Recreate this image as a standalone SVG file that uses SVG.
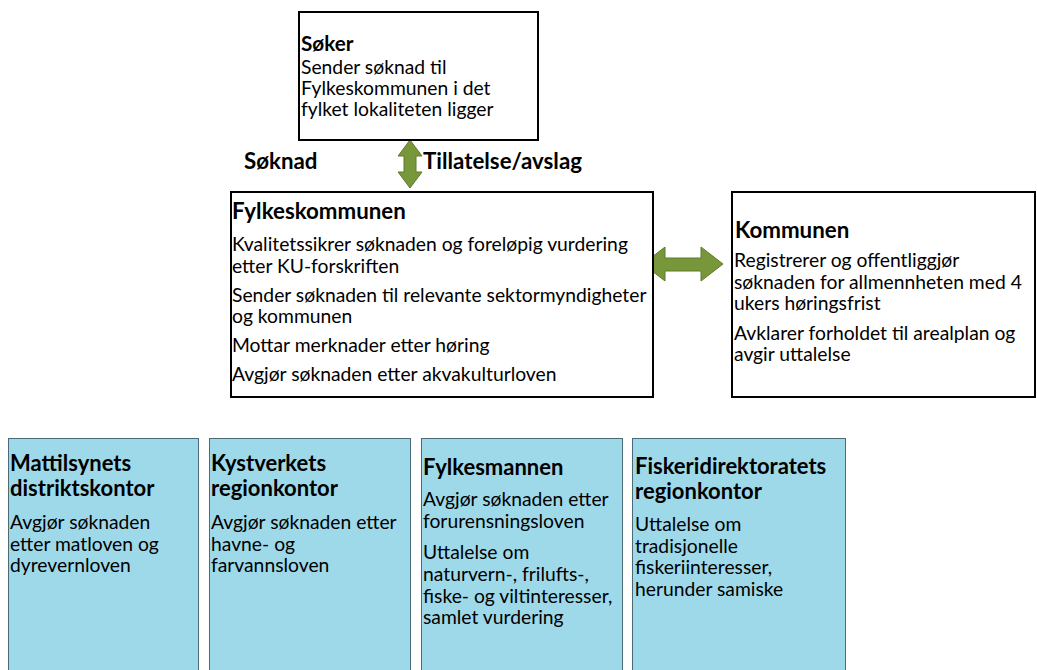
<svg xmlns="http://www.w3.org/2000/svg" width="1037" height="670" viewBox="0 0 1037 670">
<style>
text{font-family:Lato,"Open Sans","Liberation Sans",sans-serif;fill:#000}
.t{font-size:19.3px}
.b{font-size:22.3px;font-weight:bold}
.h{font-size:22px;font-weight:bold}
.s{font-size:20.7px;font-weight:bold}
.box{fill:#fff;stroke:#000;stroke-width:2}
.blue{fill:#9ed9ea;stroke:#4a6a78;stroke-width:1}
.arrow{fill:#78963a;stroke:#5f7b2c;stroke-width:1}
</style>
<rect width="1037" height="670" fill="#fff"/>
<g id="connectors">
<path class="arrow" d="M410,140 L422,156 L416,156 L416,172 L422,172 L410,188 L398,172 L404,172 L404,156 L398,156 Z"/>
<path class="arrow" d="M643,264 L665,247 L665,258 L701,258 L701,247 L723,264 L701,281 L701,271 L665,271 L665,281 Z"/>
<text class="b" x="244" y="169">Søknad</text>
<text class="b" x="423" y="169">Tillatelse/avslag</text>
</g>
<g id="soker">
<rect class="box" x="299" y="12" width="239" height="128"/>
<text class="s" x="301" y="51">Søker</text>
<text class="t" x="301" y="74">Sender søknad til</text>
<text class="t" x="301" y="95">Fylkeskommunen i det</text>
<text class="t" x="301" y="116">fylket lokaliteten ligger</text>
</g>
<g id="fylkeskommunen">
<rect class="box" x="231" y="192" width="422" height="205"/>
<text class="b" x="232" y="219">Fylkeskommunen</text>
<text class="t" x="232" y="251">Kvalitetssikrer søknaden og foreløpig vurdering</text>
<text class="t" x="232" y="273">etter KU-forskriften</text>
<text class="t" x="232" y="302">Sender søknaden til relevante sektormyndigheter</text>
<text class="t" x="232" y="323">og kommunen</text>
<text class="t" x="232" y="352">Mottar merknader etter høring</text>
<text class="t" x="232" y="381">Avgjør søknaden etter akvakulturloven</text>
</g>
<g id="kommunen">
<rect class="box" x="732" y="192" width="303" height="205"/>
<text class="b" x="735" y="238">Kommunen</text>
<text class="t" x="734" y="267">Registrerer og offentliggjør</text>
<text class="t" x="734" y="289">søknaden for allmennheten med 4</text>
<text class="t" x="734" y="310">ukers høringsfrist</text>
<text class="t" x="734" y="340">Avklarer forholdet til arealplan og</text>
<text class="t" x="734" y="361">avgir uttalelse</text>
</g>
<g id="mattilsynet">
<rect class="blue" x="8.5" y="438.5" width="190" height="235"/>
<text class="h" x="10" y="471">Mattilsynets</text>
<text class="h" x="10" y="496">distriktskontor</text>
<text class="t" x="10" y="529">Avgjør søknaden</text>
<text class="t" x="10" y="551">etter matloven og</text>
<text class="t" x="10" y="572">dyrevernloven</text>
</g>
<g id="kystverket">
<rect class="blue" x="209.5" y="438.5" width="201" height="235"/>
<text class="h" x="211" y="471">Kystverkets</text>
<text class="h" x="211" y="496">regionkontor</text>
<text class="t" x="211" y="529">Avgjør søknaden etter</text>
<text class="t" x="211" y="551">havne- og</text>
<text class="t" x="211" y="572">farvannsloven</text>
</g>
<g id="fylkesmannen">
<rect class="blue" x="421.5" y="438.5" width="201" height="235"/>
<text class="h" x="423" y="475">Fylkesmannen</text>
<text class="t" x="423" y="506">Avgjør søknaden etter</text>
<text class="t" x="423" y="528">forurensningsloven</text>
<text class="t" x="423" y="559">Uttalelse om</text>
<text class="t" x="423" y="581">naturvern-, frilufts-,</text>
<text class="t" x="423" y="603">fiske- og viltinteresser,</text>
<text class="t" x="423" y="624">samlet vurdering</text>
</g>
<g id="fiskeridirektoratet">
<rect class="blue" x="632.5" y="438.5" width="213" height="235"/>
<text class="h" x="635" y="474">Fiskeridirektoratets</text>
<text class="h" x="635" y="499">regionkontor</text>
<text class="t" x="635" y="531">Uttalelse om</text>
<text class="t" x="635" y="553">tradisjonelle</text>
<text class="t" x="635" y="574">fiskeriinteresser,</text>
<text class="t" x="635" y="596">herunder samiske</text>
</g>
</svg>
